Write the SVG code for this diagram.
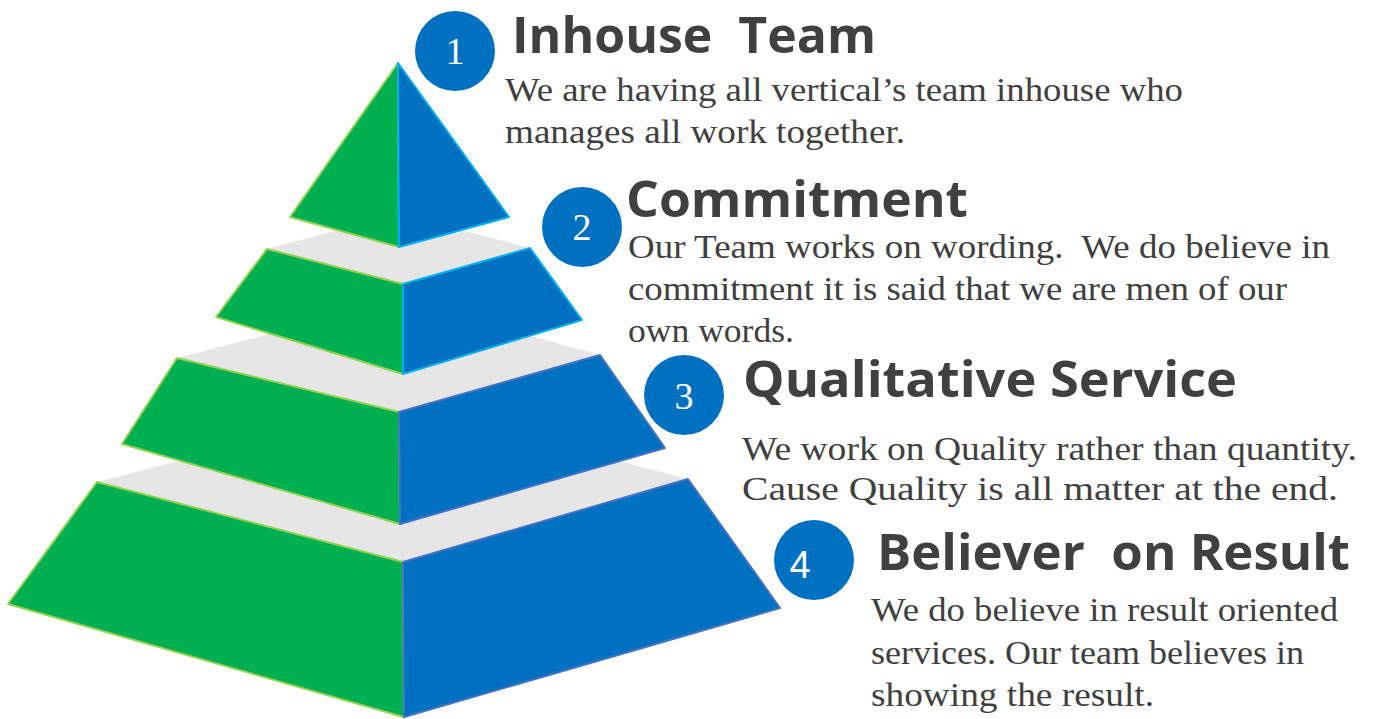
<svg xmlns="http://www.w3.org/2000/svg" width="1373" height="719" viewBox="0 0 1373 719" xml:space="preserve">
<style>
.g{fill:#00B050;stroke:#92D050;stroke-width:2;stroke-linejoin:round}
.b1{fill:#0070C0;stroke:#00B0F0;stroke-width:2;stroke-linejoin:round}
.b2{fill:#0070C0;stroke:#4472C4;stroke-width:2;stroke-linejoin:round}
.gr{fill:#E6E6E6}
.c{fill:#0070C0}
.n{font-family:"Liberation Serif",serif;font-size:38px;fill:#fff;text-anchor:middle}
.ns{font-family:"Liberation Sans",sans-serif;font-size:38px;fill:#fff;text-anchor:middle}
.t{font-family:"Open Sans","Liberation Sans",sans-serif;font-weight:bold;font-size:50px;fill:#404040;white-space:pre}
.d{font-family:"Liberation Serif",serif;font-size:34px;fill:#404040;white-space:pre}
</style>
<rect width="1373" height="719" fill="#fff"/>
<g id="pyramid">
<polygon class="gr" points="97,482 400,404 688,479 403,562"/>
<polygon class="g" points="97,482 403,562 404,717 8,604"/>
<polygon class="b2" points="403,562 688,479 780,608 404,717"/>
<polygon class="gr" points="177,358 400,300 600,355 399,412"/>
<polygon class="g" points="177,358 399,412 400,524 122,444"/>
<polygon class="b2" points="399,412 600,355 665,448 400,524"/>
<polygon class="gr" points="267,249 399,214 530,248 403,284"/>
<polygon class="g" points="267,249 403,284 403,374 216,317"/>
<polygon class="b1" points="403,284 530,248 582,320 403,374"/>
<polygon class="g" points="398,63 290,217 399,247"/>
<polygon class="b1" points="398,63 509,217 399,247"/>
</g>
<g id="node1">
<circle class="c" cx="455" cy="51" r="40"/>
<text class="n" x="455" y="64">1</text>
<text class="t" x="512" y="53" textLength="364" lengthAdjust="spacingAndGlyphs">Inhouse  Team</text>
<text class="d" x="505" y="101" textLength="678" lengthAdjust="spacingAndGlyphs">We are having all vertical’s team inhouse who</text>
<text class="d" x="505" y="143" textLength="400" lengthAdjust="spacingAndGlyphs">manages all work together.</text>
</g>
<g id="node2">
<circle class="c" cx="582" cy="227" r="40"/>
<text class="n" x="582" y="240">2</text>
<text class="t" x="626" y="217" textLength="342" lengthAdjust="spacingAndGlyphs">Commitment</text>
<text class="d" x="628" y="258" textLength="702" lengthAdjust="spacingAndGlyphs">Our Team works on wording.  We do believe in</text>
<text class="d" x="628" y="300" textLength="659" lengthAdjust="spacingAndGlyphs">commitment it is said that we are men of our</text>
<text class="d" x="628" y="342" textLength="166" lengthAdjust="spacingAndGlyphs">own words.</text>
</g>
<g id="node3">
<circle class="c" cx="684" cy="395" r="40"/>
<text class="n" x="684" y="409">3</text>
<text class="t" x="743" y="397" textLength="494" lengthAdjust="spacingAndGlyphs">Qualitative Service</text>
<text class="d" x="742" y="460" textLength="615" lengthAdjust="spacingAndGlyphs">We work on Quality rather than quantity.</text>
<text class="d" x="742" y="500" textLength="596" lengthAdjust="spacingAndGlyphs">Cause Quality is all matter at the end.</text>
</g>
<g id="node4">
<circle class="c" cx="814" cy="560" r="40"/>
<text class="ns" x="800" y="578">4</text>
<text class="t" x="877" y="570" textLength="473" lengthAdjust="spacingAndGlyphs">Believer  on Result</text>
<text class="d" x="871" y="621" textLength="467" lengthAdjust="spacingAndGlyphs">We do believe in result oriented</text>
<text class="d" x="871" y="664" textLength="433" lengthAdjust="spacingAndGlyphs">services. Our team believes in</text>
<text class="d" x="871" y="706" textLength="283" lengthAdjust="spacingAndGlyphs">showing the result.</text>
</g>
<g id="connectors"/>
</svg>
